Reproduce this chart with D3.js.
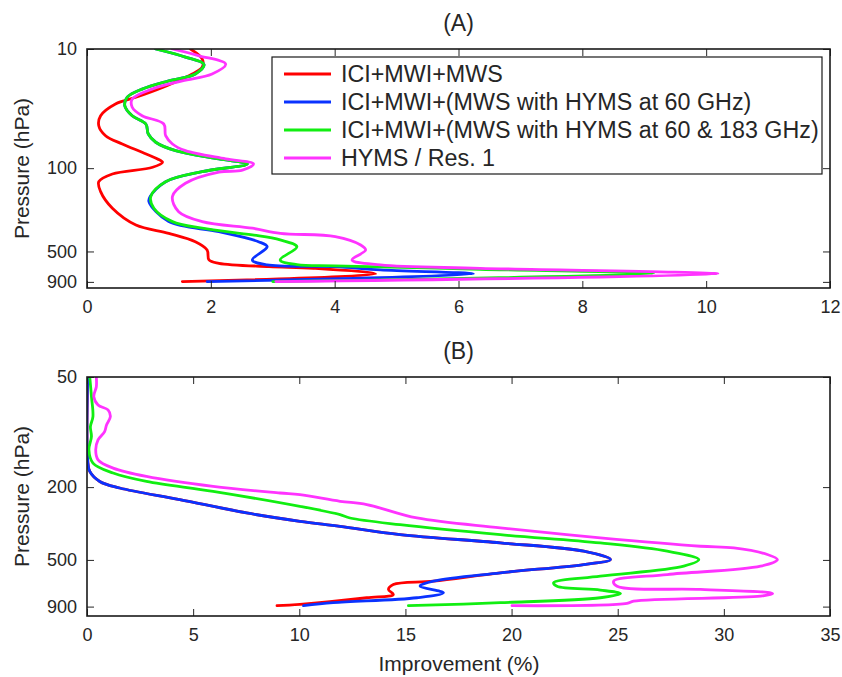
<!DOCTYPE html>
<html>
<head>
<meta charset="utf-8">
<script src="https://cdn.jsdelivr.net/npm/d3@7"></script>
<style>
  body { margin: 0; background: #fff; }
  svg text { font-family: "Liberation Sans", Arial, Helvetica, sans-serif; fill: #262626; }
</style>
</head>
<body>
<div id="chart"></div>
<script>
// series names / colours
const seriesNames = [
  "ICI+MWI+MWS",
  "ICI+MWI+(MWS with HYMS at 60 GHz)",
  "ICI+MWI+(MWS with HYMS at 60 & 183 GHz)",
  "HYMS / Res. 1"
];
const seriesColors = ["#ff0000", "#0a32ff", "#11ee11", "#ff33ff"];

// panel A: [improvement %, pressure hPa]
const redA = [[1.67,10],[1.86,12.1],[1.86,14.2],[1.70,16.2],[1.22,21.0],[0.79,25.4],[0.46,28.9],[0.22,36.3],[0.19,44],[0.30,53.4],[0.57,62.7],[0.89,73.6],[1.14,83.7],[1.22,89.2],[1.06,98.3],[0.41,111.9],[0.19,129.8],[0.22,157.4],[0.41,217],[0.79,300],[1.32,352],[1.75,414],[1.94,486],[1.97,589],[2.13,628],[2.94,670],[3.66,692],[4.66,772],[1.54,895]];
const blueA = [[1.11,10],[1.59,11.7],[1.89,13.5],[1.75,16.2],[1.32,18.5],[0.89,21.7],[0.65,25.4],[0.61,29.9],[0.73,36.3],[0.95,42.6],[0.99,51.7],[1.11,60.6],[1.43,71.3],[2.13,83.7],[2.59,92.2],[1.86,107],[1.27,130],[1.02,173],[1.0,191],[1.32,281],[2.13,341],[2.77,414],[2.91,456],[2.67,589],[2.91,649],[4.01,670],[4.74,714],[6.24,772],[1.94,895]];
const greenA = [[1.11,10],[1.59,11.7],[1.89,13.5],[1.75,16.2],[1.32,18.5],[0.89,21.7],[0.65,25.4],[0.61,29.9],[0.73,36.3],[0.95,42.6],[0.99,51.7],[1.11,60.6],[1.43,71.3],[2.13,83.7],[2.59,92.2],[1.86,107],[1.27,130],[1.03,173],[1.08,217],[1.38,281],[1.86,319],[2.67,363],[3.12,400],[3.39,456],[3.12,589],[3.39,645],[4.0,660],[6.35,705],[9.15,765],[3.0,895]];
const magentaA = [[1.38,10],[1.81,11.4],[2.24,13.4],[2.02,16.2],[1.54,18.5],[1.05,21.7],[0.73,26.3],[0.73,30.8],[0.89,36.3],[1.24,42.6],[1.27,53.4],[1.38,62.7],[1.59,71.3],[2.24,83.7],[2.69,92.2],[2.51,104],[2.13,108],[1.59,134],[1.38,173],[1.48,232],[1.86,281],[2.67,319],[3.12,352],[4.01,375],[4.42,441],[4.50,486],[4.28,589],[4.74,649],[6.35,692],[10.19,772],[3.05,895]];

// panel B: [improvement %, pressure hPa]
const redB = [[0.03,50],[0.03,141.8],[0.13,164.2],[0.6,186.2],[1.54,202.2],[4.37,234],[7.52,276.8],[10.03,307.6],[11.92,327.5],[14.75,363.5],[19.47,403.5],[23.4,448],[24.66,497.5],[23.4,530],[19.47,588],[16.32,653],[14.43,681],[14.2,725],[14.43,772],[13.18,805],[10.03,875],[8.95,890]];
const blueB = [[0.03,50],[0.03,141.8],[0.13,164.2],[0.6,186.2],[1.54,202.2],[4.37,234],[7.52,276.8],[10.03,307.6],[11.92,327.5],[14.75,363.5],[19.47,403.5],[23.4,448],[24.66,497.5],[23.4,530],[19.47,588],[16.32,653],[15.69,696],[16.79,756],[15.54,805],[11.6,857],[10.2,890]];
const greenB = [[0.13,50],[0.21,64],[0.28,82.3],[0.16,93.3],[0.21,105.8],[0.09,125],[0.28,147.7],[1.23,167.5],[2.80,186.2],[5.94,211],[10.03,255],[11.92,283],[12.39,295],[14.75,321],[19.47,364],[24.18,404],[27.33,448],[28.82,498],[28.11,541],[24.18,614],[21.98,667],[22.14,696],[24.18,731],[25.13,763],[24.18,805],[19.47,857],[15.14,890]];
const magentaB = [[0.44,50],[0.44,56.5],[0.32,64],[0.52,71.1],[0.99,75.7],[1.10,82.3],[0.92,91.4],[0.83,99.4],[0.52,110.3],[0.41,125],[0.52,141.8],[1.23,157.4],[2.80,174.8],[5.94,198.2],[9.09,215.4],[10.03,220],[11.92,239],[13.18,249],[15.54,295],[19.47,334],[24.18,379],[28.9,421],[30.47,430],[32.05,467],[32.52,498],[31.73,541],[27.33,601],[24.81,653],[24.97,696],[28.9,725],[32.2,756],[32.3,765],[31.73,789],[25.75,840],[25.44,865],[20.02,890]];

const xTicksA = [0, 2, 4, 6, 8, 10, 12];
const yTicksA = [10, 100, 500, 900];
const xTicksB = [0, 5, 10, 15, 20, 25, 30, 35];
const yTicksB = [50, 200, 500, 900];

const W = 842, H = 677;
const svg = d3.select("#chart").append("svg").attr("width", W).attr("height", H);

function drawPanel(cfg) {
  const x = d3.scaleLinear().domain(cfg.xDomain).range([cfg.left, cfg.right]);
  const y = d3.scaleLog().domain(cfg.yDomain).range([cfg.top, cfg.bottom]);
  const g = svg.append("g");

  const clipId = "clip" + cfg.id;
  svg.append("clipPath").attr("id", clipId).append("rect")
    .attr("x", cfg.left).attr("y", cfg.top)
    .attr("width", cfg.right - cfg.left).attr("height", cfg.bottom - cfg.top);

  const line = d3.line()
    .x((d) => x(d[0]))
    .y((d) => y(d[1]))
    .curve(d3.curveCatmullRom.alpha(0.5));

  g.append("g").attr("clip-path", `url(#${clipId})`)
    .selectAll("path")
    .data(cfg.series)
    .join("path")
    .attr("d", (d) => line(d))
    .attr("fill", "none")
    .attr("stroke", (d, i) => seriesColors[i])
    .attr("stroke-width", 2.8)
    .attr("stroke-linejoin", "round")
    .attr("stroke-linecap", "round");

  // axes, ticks pointing inward
  const tk = 7;
  const bottomAxis = g.append("g")
    .attr("transform", `translate(0,${cfg.bottom})`)
    .call(d3.axisBottom(x).tickValues(cfg.xTicks).tickSizeInner(-tk).tickSizeOuter(0).tickPadding(12));
  const topAxis = g.append("g")
    .attr("transform", `translate(0,${cfg.top})`)
    .call(d3.axisTop(x).tickValues(cfg.xTicks).tickSizeInner(-tk).tickSizeOuter(0).tickFormat(""));
  const leftAxis = g.append("g")
    .attr("transform", `translate(${cfg.left},0)`)
    .call(d3.axisLeft(y).tickValues(cfg.yTicks).tickSizeInner(-tk).tickSizeOuter(0).tickPadding(10).tickFormat(d3.format("d")));
  const rightAxis = g.append("g")
    .attr("transform", `translate(${cfg.right},0)`)
    .call(d3.axisRight(y).tickValues(cfg.yTicks).tickSizeInner(-tk).tickSizeOuter(0).tickFormat(""));

  [bottomAxis, topAxis, leftAxis, rightAxis].forEach((a) => {
    a.select(".domain").remove();
    a.selectAll("line").attr("stroke", "#262626").attr("stroke-width", 1);
    a.selectAll("text").style("font-size", "18px").attr("fill", "#262626");
  });

  g.append("rect")
    .attr("x", cfg.left).attr("y", cfg.top)
    .attr("width", cfg.right - cfg.left).attr("height", cfg.bottom - cfg.top)
    .attr("fill", "none").attr("stroke", "#1a1a1a").attr("stroke-width", 1.6);

  g.append("text")
    .attr("x", (cfg.left + cfg.right) / 2)
    .attr("y", cfg.top - 18)
    .attr("text-anchor", "middle")
    .style("font-size", "23px")
    .text(cfg.title);

  g.append("text")
    .attr("transform", `translate(29,${(cfg.top + cfg.bottom) / 2}) rotate(-90)`)
    .attr("text-anchor", "middle")
    .style("font-size", "21px")
    .text("Pressure (hPa)");

  return { x, y, g };
}

const panelA = drawPanel({
  id: "A", title: "(A)",
  left: 87, right: 830, top: 49, bottom: 288,
  xDomain: [0, 12], yDomain: [10, 1013],
  xTicks: xTicksA, yTicks: yTicksA,
  series: [redA, blueA, greenA, magentaA]
});

const panelB = drawPanel({
  id: "B", title: "(B)",
  left: 87, right: 830, top: 377, bottom: 616,
  xDomain: [0, 35], yDomain: [50, 1013],
  xTicks: xTicksB, yTicks: yTicksB,
  series: [redB, blueB, greenB, magentaB]
});

// x-axis title
svg.append("text")
  .attr("x", 459)
  .attr("y", 671)
  .attr("text-anchor", "middle")
  .style("font-size", "21px")
  .text("Improvement (%)");

// legend in panel A
const legend = svg.append("g");
legend.append("rect")
  .attr("x", 272).attr("y", 57)
  .attr("width", 550).attr("height", 117)
  .attr("fill", "#fff").attr("stroke", "#1a1a1a").attr("stroke-width", 1.2);

const rows = legend.selectAll(".leg-row")
  .data(seriesNames)
  .join("g")
  .attr("class", "leg-row")
  .attr("transform", (d, i) => `translate(0,${74 + i * 28})`);

rows.append("line")
  .attr("x1", 284).attr("x2", 331)
  .attr("y1", 0).attr("y2", 0)
  .attr("stroke", (d, i) => seriesColors[i])
  .attr("stroke-width", 2.8);

rows.append("text")
  .attr("x", 341)
  .attr("y", 0)
  .attr("dy", "0.35em")
  .style("font-size", "23.3px")
  .text((d) => d);
</script>
</body>
</html>
